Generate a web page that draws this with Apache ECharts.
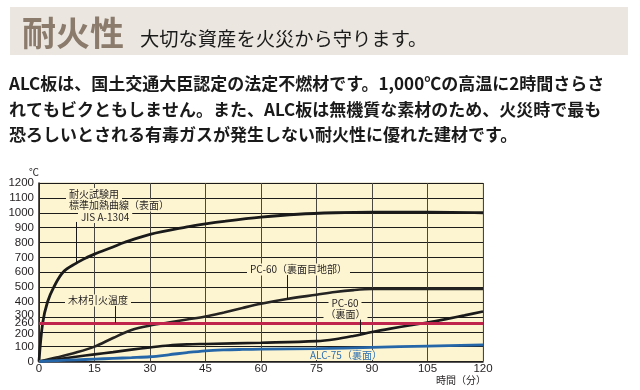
<!DOCTYPE html>
<html><head><meta charset="utf-8">
<script src="https://cdn.jsdelivr.net/npm/echarts@6/dist/echarts.min.js"></script>
<style>html,body{margin:0;padding:0;background:#fff}#c{width:640px;height:390px}</style>
</head><body><div id="c"></div>
<script>
// ---- data (minutes, °C) ----
const xTicks = [0, 15, 30, 45, 60, 75, 90, 105, 120];
const yTicks = [0, 100, 200, 300, 400, 500, 600, 700, 800, 900, 1000, 1100, 1200];
const ignitionTemp = 260;

const stdTime = [0, 1, 2.3, 4, 6.5, 10, 13, 15, 20, 23, 30, 40, 45, 50, 60, 70, 80, 90, 105, 120];
const stdTemp = [0, 260, 400, 500, 600, 660, 700, 722, 770, 800, 855, 905, 925, 942, 970, 990, 1000, 1004, 1004, 1000];

const jointTime = [0, 5, 10, 15, 20, 25, 30, 35, 40, 45, 50, 55, 60, 67, 75, 80, 85, 90, 105, 120];
const jointTemp = [0, 28, 60, 100, 158, 212, 242, 262, 282, 302, 330, 360, 388, 420, 449, 467, 480, 487, 488, 488];

const pcTime = [0, 5, 10, 15, 20, 25, 30, 35, 40, 45, 60, 75, 80, 85, 90, 95, 100, 105, 110, 115, 120];
const pcTemp = [0, 15, 32, 48, 63, 80, 95, 108, 115, 118, 126, 137, 150, 172, 198, 221, 242, 262, 285, 310, 336];

const alcTime = [0, 5, 10, 15, 20, 25, 30, 35, 40, 45, 50, 55, 60, 75, 90, 105, 120];
const alcTemp = [0, 6, 11, 16, 21, 26, 32, 45, 60, 72, 78, 81, 83, 86, 95, 104, 112];

// leader lines: [minute, from °C, to °C]
const leaders = [[10, 938, 664], [20.5, 373, 260], [67, 581, 420], [86.8, 281, 182]];

const headTitle = '耐火性';
const headSub = '大切な資産を火災から守ります。';
const bodyLines = [
  'ALC板は、国土交通大臣認定の法定不燃材です。1,000℃の高温に2時間さらさ',
  'れてもビクともしません。また、ALC板は無機質な素材のため、火災時で最も',
  '恐ろしいとされる有毒ガスが発生しない耐火性に優れた建材です。'
];
const xName = '時間（分）';
const yName = '℃';

const pairs = (t, v) => t.map((x, i) => [x, v[i]]);
const CJK = '"Noto Sans CJK JP", "Noto Sans", sans-serif';
const NUM = '"Liberation Sans", Arial, sans-serif';
const cream = '#fdf5d2';
const ink = '#231f20';

function ann(text, x, y, extra) {
  return {
    type: 'text', x: x, y: y, z: 1,
    style: Object.assign({
      text: text, fontSize: 10, fontFamily: CJK, fill: ink,
      align: 'left', verticalAlign: 'middle',
      backgroundColor: cream, padding: [1, 3]
    }, extra || {})
  };
}
function body(text, y) {
  return { type: 'text', x: 9, y: y, style: { text: text, fontSize: 17, fontWeight: 'bold', fontFamily: CJK, fill: '#1a1a1a', align: 'left', verticalAlign: 'middle' } };
}

const chart = echarts.init(document.getElementById('c'));
chart.setOption({
  animation: false,
  backgroundColor: '#ffffff',
  grid: { left: 39, top: 183, width: 444, height: 178.5, show: true,
          backgroundColor: cream, borderColor: '#d9d2b4', borderWidth: 1 },
  xAxis: {
    type: 'value', min: 0, max: 120, interval: 15,
    axisLine: { lineStyle: { color: ink, width: 1.5 } },
    axisTick: { show: false },
    axisLabel: { color: ink, fontSize: 11.5, fontFamily: NUM, margin: 1 },
    splitLine: { show: true, lineStyle: { color: '#4a4640', width: 1 } }
  },
  yAxis: {
    type: 'value', min: 0, max: 1200, interval: 100,
    axisLine: { show: true, lineStyle: { color: ink, width: 1.5 } },
    axisTick: { show: false },
    axisLabel: {
      color: ink, fontSize: 11.5, fontFamily: NUM, margin: 5,
      formatter: function (v) {
        if (v === 300) return '{u|300}';
        if (v === 200) return '{d|200}';
        return String(v);
      },
      rich: {
        u: { color: ink, fontSize: 11.5, fontFamily: NUM, padding: [0, 0, 5, 0] },
        d: { color: ink, fontSize: 11.5, fontFamily: NUM, padding: [5, 0, 0, 0] }
      }
    },
    splitLine: { show: true, lineStyle: { color: '#1e1c1a', width: 1 } },
    name: yName, nameLocation: 'end', nameGap: 5,
    nameTextStyle: { color: ink, fontSize: 10, fontFamily: CJK, align: 'right' }
  },
  graphic: [
    { type: 'rect', shape: { x: 10, y: 7, width: 618, height: 48 }, style: { fill: '#ebe7e0' }, z: 0 },
    { type: 'text', x: 22, y: 33, style: { text: headTitle, fontSize: 34, fontWeight: 'bold', fontFamily: CJK, fill: '#8b7b6c', align: 'left', verticalAlign: 'middle' } },
    { type: 'text', x: 140, y: 39, style: { text: headSub, fontSize: 19.3, fontFamily: CJK, fill: '#1a1a1a', align: 'left', verticalAlign: 'middle' } },
    body(bodyLines[0], 83.5),
    body(bodyLines[1], 109.5),
    body(bodyLines[2], 135),
    { type: 'text', x: 486, y: 380, style: { text: xName, fontSize: 10, fontFamily: CJK, fill: ink, align: 'right', verticalAlign: 'middle' } },
    ann('耐火試験用', 66, 194),
    ann('標準加熱曲線（表面）', 66, 205.5),
    ann('JIS A-1304', 78, 217),
    ann('木材引火温度', 65, 300.5),
    ann('PC-60（裏面目地部）', 247, 269.5),
    ann('PC-60', 345, 303, { align: 'center' }),
    ann('（裏面）', 345.5, 314.5, { align: 'center', padding: [0, 2] }),
    ann('ALC-75（裏面）', 308, 355, { fill: '#2d6fb0', padding: [0, 2] })
  ],
  series: [
    {
      name: '標準加熱曲線', type: 'line', smooth: 0.35, showSymbol: false, z: 3,
      lineStyle: { color: '#1a1a1a', width: 2.8 },
      data: pairs(stdTime, stdTemp),
      markLine: {
        silent: true, symbol: 'none', animation: false,
        data: [
          [{ coord: [0, ignitionTemp], lineStyle: { color: '#c0244d', width: 3, type: 'solid' },
             label: { show: true, position: 'start', formatter: '260', color: ink, fontSize: 11.5, fontFamily: NUM, distance: 5 } },
           { coord: [120, ignitionTemp] }]
        ].concat(leaders.map(l => [
          { coord: [l[0], l[1]], lineStyle: { color: '#1a1a1a', width: 1, type: 'solid' }, label: { show: false } },
          { coord: [l[0], l[2]] }
        ]))
      }
    },
    {
      name: 'PC-60（裏面目地部）', type: 'line', smooth: 0.35, showSymbol: false, z: 3,
      lineStyle: { color: '#262422', width: 2.6 },
      data: pairs(jointTime, jointTemp)
    },
    {
      name: 'PC-60（裏面）', type: 'line', smooth: 0.35, showSymbol: false, z: 3,
      lineStyle: { color: '#1a1a1a', width: 2.6 },
      data: pairs(pcTime, pcTemp)
    },
    {
      name: 'ALC-75（裏面）', type: 'line', smooth: 0.35, showSymbol: false, z: 3,
      lineStyle: { color: '#2566a8', width: 2.8 },
      data: pairs(alcTime, alcTemp)
    }
  ]
});
</script></body></html>
